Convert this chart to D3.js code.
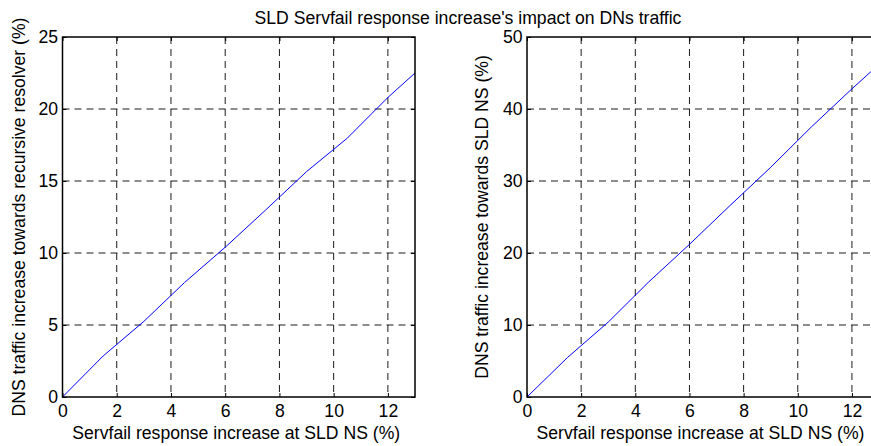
<!DOCTYPE html>
<html>
<head>
<meta charset="utf-8">
<script src="https://cdn.jsdelivr.net/npm/d3@7"></script>
<style>
  html, body { margin: 0; padding: 0; background: #fff; overflow: hidden; }
  svg { display: block; font-family: "Liberation Sans", Arial, sans-serif; }
</style>
</head>
<body>
<svg id="chart" width="871" height="446"></svg>
<script>
// ---- data ----
const xValues = [0, 1.5, 3, 4.5, 6, 7.5, 9, 10.5, 12, 13.5];
const resolverTraffic = [0, 2.85, 5.25, 7.95, 10.4, 13.0, 15.65, 17.97, 20.8, 23.35];
const sldNsTraffic = [0, 5.5, 10.4, 16.0, 21.2, 26.6, 31.9, 37.5, 42.8, 47.9];
const xTicks = [0, 2, 4, 6, 8, 10, 12];
const leftYTicks = [0, 5, 10, 15, 20, 25];
const rightYTicks = [0, 10, 20, 30, 40, 50];
const titleText = "SLD Servfail response increase's impact on DNs traffic";
const xLabelText = "Servfail response increase at SLD NS (%)";
const leftYLabelText = "DNS traffic increase towards recursive resolver (%)";
const rightYLabelText = "DNS traffic increase towards SLD NS (%)";

const svg = d3.select("#chart");

// fit font size so the x label matches the reference width (~328px)
const probe = svg.append("text").attr("font-size", 100).text(xLabelText);
const probeLen = probe.node().getComputedTextLength();
probe.remove();
const FS = Math.max(12, Math.min(22, 328 / probeLen * 100));

svg.append("rect").attr("width", 871).attr("height", 446).attr("fill", "#fff");

svg.append("text")
  .attr("x", 468).attr("y", 24)
  .attr("text-anchor", "middle")
  .attr("font-size", FS)
  .text(titleText);

function panel(id, left, right, yMax, yTicks, values, yLabel, yLabelX) {
  const top = 37, bottom = 397;
  const x = d3.scaleLinear().domain([0, 13]).range([left, right]);
  const y = d3.scaleLinear().domain([0, yMax]).range([bottom, top]);
  const g = svg.append("g");

  g.append("clipPath").attr("id", "clip" + id)
    .append("rect").attr("x", left).attr("y", top)
    .attr("width", right - left).attr("height", bottom - top);

  // grid
  g.append("g").selectAll("line").data(xTicks.filter(d => d > 0)).join("line")
    .attr("x1", d => x(d)).attr("x2", d => x(d))
    .attr("y1", top).attr("y2", bottom)
    .attr("stroke", "#000").attr("stroke-width", 0.9)
    .attr("stroke-dasharray", "7,5");
  g.append("g").selectAll("line").data(yTicks.filter(d => d > 0 && d < yMax)).join("line")
    .attr("x1", left).attr("x2", right)
    .attr("y1", d => y(d)).attr("y2", d => y(d))
    .attr("stroke", "#000").attr("stroke-width", 0.9)
    .attr("stroke-dasharray", "7,5");

  // data line
  const line = d3.line().x((d, i) => x(xValues[i])).y(d => y(d));
  g.append("path")
    .datum(values)
    .attr("clip-path", "url(#clip" + id + ")")
    .attr("fill", "none")
    .attr("stroke", "#0000ff")
    .attr("stroke-width", 1)
    .attr("d", line);

  // axes
  const ax = g.append("g").attr("transform", `translate(0,${bottom})`)
    .call(d3.axisBottom(x).tickValues(xTicks).tickSize(-4).tickPadding(8).tickFormat(d3.format("d")));
  ax.selectAll("text").attr("y", 20).attr("dy", null);
  const ay = g.append("g").attr("transform", `translate(${left},0)`)
    .call(d3.axisLeft(y).tickValues(yTicks).tickSize(-4).tickPadding(4.5).tickFormat(d3.format("d")));
  const axT = g.append("g").attr("transform", `translate(0,${top})`)
    .call(d3.axisTop(x).tickValues(xTicks).tickSize(-4).tickFormat(""));
  const ayR = g.append("g").attr("transform", `translate(${right},0)`)
    .call(d3.axisRight(y).tickValues(yTicks).tickSize(-4).tickFormat(""));
  [ax, ay, axT, ayR].forEach(a => {
    a.select(".domain").remove();
    a.selectAll("line").attr("stroke", "#000");
    a.selectAll("text").attr("font-size", FS).attr("font-family", "Liberation Sans, Arial, sans-serif").attr("fill", "#000");
  });

  // box
  g.append("rect")
    .attr("x", left).attr("y", top)
    .attr("width", right - left).attr("height", bottom - top)
    .attr("fill", "none").attr("stroke", "#000").attr("stroke-width", 1.5);

  // labels
  g.append("text")
    .attr("x", (left + right) / 2 - 2.5).attr("y", 439)
    .attr("text-anchor", "middle").attr("font-size", FS)
    .text(xLabelText);
  g.append("text")
    .attr("transform", `translate(${yLabelX},${(top + bottom) / 2}) rotate(-90)`)
    .attr("text-anchor", "middle").attr("font-size", FS)
    .text(yLabel);
}

panel("L", 62.5, 415, 25, leftYTicks, resolverTraffic, leftYLabelText, 25);
panel("R", 527, 879, 50, rightYTicks, sldNsTraffic, rightYLabelText, 488);
</script>
</body>
</html>
